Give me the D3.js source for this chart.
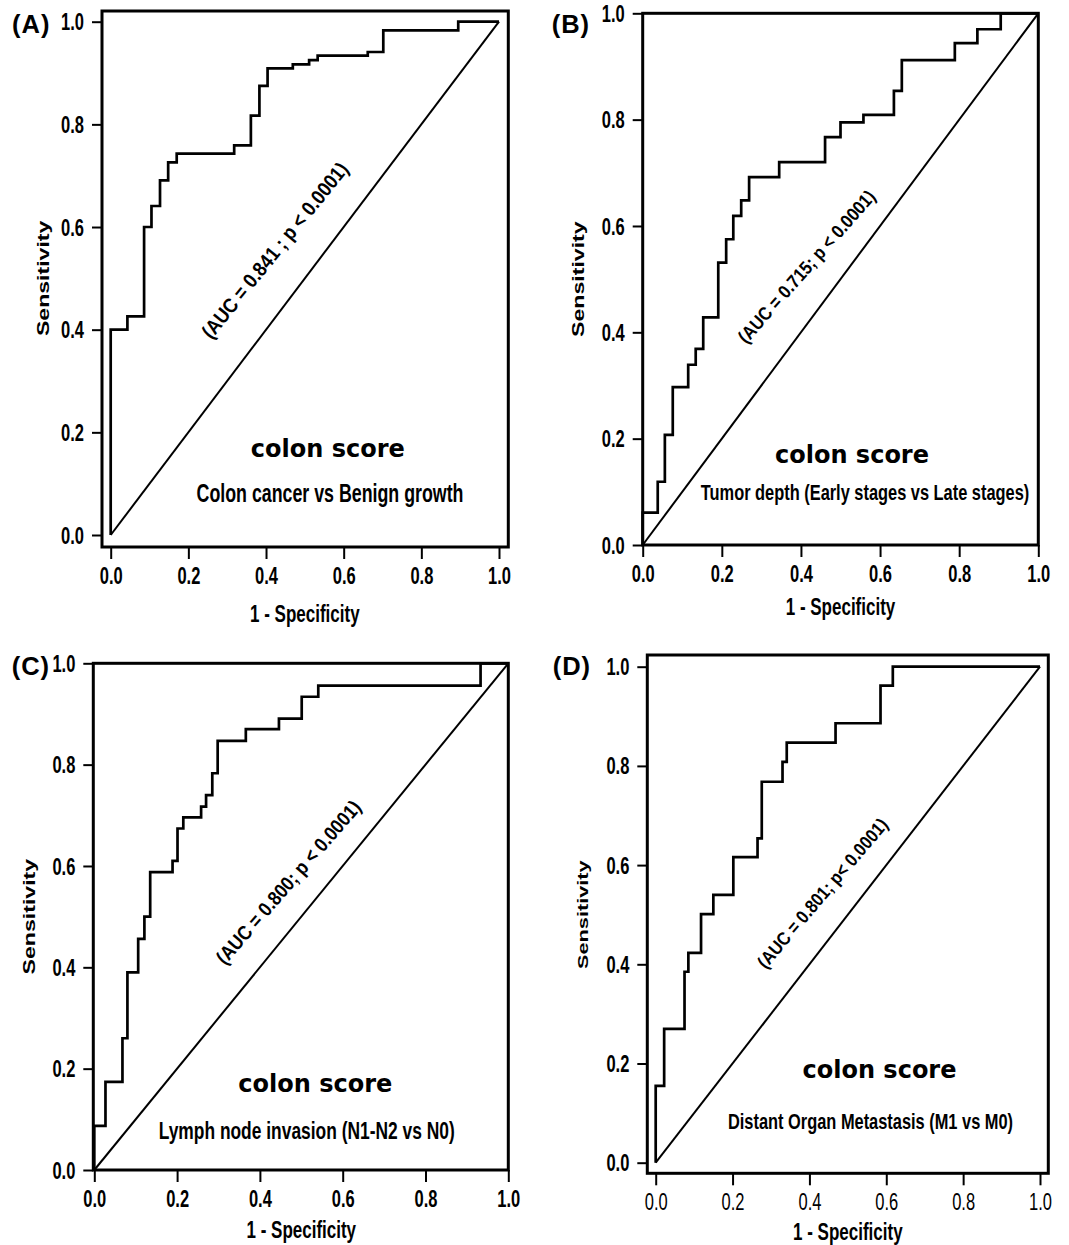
<!DOCTYPE html>
<html lang="en">
<head>
<meta charset="UTF-8">
<title>colon score ROC curves</title>
<script src="https://cdn.jsdelivr.net/npm/d3@7"></script>
<style>
  body { margin: 0; background: #fff; }
  svg text { font-family: "Liberation Sans", Arial, sans-serif; fill: #000; }
</style>
</head>
<body>
<svg id="fig" width="1069" height="1245"></svg>
<script>
// ROC operating points: 1 - specificity / sensitivity
const fprA = [0, 0, 0.043, 0.086, 0.105, 0.127, 0.148, 0.170, 0.318, 0.361, 0.383, 0.404, 0.469, 0.511, 0.533, 0.662, 0.702, 0.895, 1.0];
const tprA = [0, 0.400, 0.426, 0.600, 0.641, 0.691, 0.726, 0.743, 0.759, 0.817, 0.875, 0.909, 0.917, 0.925, 0.934, 0.941, 0.983, 1.0, 1.0];

const fprB = [0, 0, 0.038, 0.056, 0.076, 0.115, 0.134, 0.153, 0.191, 0.211, 0.229, 0.249, 0.269, 0.345, 0.461, 0.500, 0.558, 0.635, 0.655, 0.789, 0.846, 0.905, 1.0];
const tprB = [0, 0.061, 0.119, 0.207, 0.297, 0.339, 0.369, 0.428, 0.531, 0.575, 0.619, 0.648, 0.692, 0.720, 0.767, 0.795, 0.809, 0.854, 0.912, 0.944, 0.970, 1.0, 1.0];

const fprC = [0, 0, 0.027, 0.068, 0.080, 0.106, 0.121, 0.135, 0.189, 0.201, 0.215, 0.258, 0.270, 0.285, 0.298, 0.366, 0.446, 0.501, 0.541, 0.933, 1.0];
const tprC = [0, 0.087, 0.174, 0.260, 0.390, 0.456, 0.500, 0.588, 0.610, 0.674, 0.696, 0.717, 0.740, 0.783, 0.847, 0.870, 0.891, 0.934, 0.956, 1.0, 1.0];

const fprD = [0, 0, 0.022, 0.075, 0.085, 0.118, 0.150, 0.202, 0.265, 0.276, 0.330, 0.341, 0.468, 0.585, 0.617, 1.0];
const tprD = [0, 0.155, 0.270, 0.385, 0.423, 0.501, 0.540, 0.616, 0.654, 0.768, 0.808, 0.847, 0.886, 0.962, 1.0, 1.0];

const ticks = [0, 0.2, 0.4, 0.6, 0.8, 1.0];
const panelLetters = ["(A)", "(B)", "(C)", "(D)"];
const aucLabels = ["(AUC = 0.841 ; p < 0.0001)", "(AUC = 0.715; p < 0.0001)",
                   "(AUC = 0.800; p < 0.0001)", "(AUC = 0.801; p< 0.0001)"];
const subtitles = ["Colon cancer vs Benign growth", "Tumor depth (Early stages vs Late stages)",
                   "Lymph node invasion (N1-N2 vs N0)", "Distant Organ Metastasis (M1 vs M0)"];
const scoreName = "colon score";
const xTitle = "1 - Specificity";
const yTitle = "Sensitivity";

// the source figure is stretched vertically, text gets the same stretch
const S = 1.4;

// pixel layout of each panel; auc = [cx, cy, angle, font size]
const layout = [
  {x0: 110.7, x1: 499, y0: 535, y1: 21.7, frame: [102, 11, 508.3, 547],
   score: [327.8, 456.7], sub: [330, 502.3, 17.8], auc: [275, 250.5, 51, 20.5],
   xTitleY: 621.5, yTitleX: 43, letter: [12, 33.3], xBold: true},
  {x0: 642.7, x1: 1038.3, y0: 545, y1: 13.3, frame: [642.7, 13.3, 1038.3, 545],
   score: [852, 462.7], sub: [865, 500, 16.4], auc: [806.7, 266.7, 48.5, 18.8],
   xTitleY: 615, yTitleX: 578.5, letter: [551.7, 33.3], xBold: true},
  {x0: 94.3, x1: 508.3, y0: 1170, y1: 663.3, frame: [93.3, 663.3, 508.3, 1170],
   score: [315.3, 1092.3], sub: [306.7, 1139, 17.4], auc: [288.3, 882.3, 49, 20],
   xTitleY: 1238.3, yTitleX: 29, letter: [11.7, 675], xBold: true},
  {x0: 655.7, x1: 1040, y0: 1162.7, y1: 666.7, frame: [647.3, 655, 1048.3, 1173.3],
   score: [879.5, 1078.3], sub: [870.5, 1129, 16.4], auc: [822.5, 893.3, 49.5, 18.6],
   xTitleY: 1240, yTitleX: 582.5, letter: [552.7, 675], xBold: false}
];

const curves = [[fprA, tprA], [fprB, tprB], [fprC, tprC], [fprD, tprD]];

const svg = d3.select("#fig");
svg.append("rect").attr("width", 1069).attr("height", 1245).attr("fill", "#fff");

function drawPanel(p, i) {
  const x = d3.scaleLinear().domain([0, 1]).range([p.x0, p.x1]);
  const y = d3.scaleLinear().domain([0, 1]).range([p.y0, p.y1]);
  const [fl, ft, fr, fb] = p.frame;
  const g = svg.append("g");

  // x axis below the frame
  const xa = g.append("g").attr("transform", `translate(0,${fb})`)
    .call(d3.axisBottom(x).tickValues(ticks).tickFormat(d3.format(".1f")).tickSize(12).tickSizeOuter(0));
  xa.select(".domain").remove();
  xa.selectAll("line").attr("stroke", "#000").attr("stroke-width", 2);
  xa.selectAll("text")
    .attr("dy", null).attr("y", 28.5 / S)
    .attr("dominant-baseline", "central")
    .attr("transform", `scale(1,${S})`)
    .style("font-size", "16.5px")
    .style("font-weight", p.xBold ? "bold" : "normal");

  // y axis left of the frame
  const ya = g.append("g").attr("transform", `translate(${fl},0)`)
    .call(d3.axisLeft(y).tickValues(ticks).tickFormat(d3.format(".1f")).tickSize(10).tickSizeOuter(0));
  ya.select(".domain").remove();
  ya.selectAll("line").attr("stroke", "#000").attr("stroke-width", 2);
  ya.selectAll("text")
    .attr("dy", null).attr("x", -18)
    .attr("dominant-baseline", "central")
    .attr("transform", `scale(1,${S})`)
    .style("font-size", "16.5px")
    .style("font-weight", "bold");

  // frame
  g.append("rect")
    .attr("x", fl).attr("y", ft).attr("width", fr - fl).attr("height", fb - ft)
    .attr("fill", "none").attr("stroke", "#000").attr("stroke-width", 3);

  // reference diagonal
  g.append("line")
    .attr("x1", x(0)).attr("y1", y(0)).attr("x2", x(1)).attr("y2", y(1))
    .attr("stroke", "#000").attr("stroke-width", 2);

  // ROC step curve
  const [fpr, tpr] = curves[i];
  const line = d3.line().x(d => x(d[0])).y(d => y(d[1])).curve(d3.curveStepAfter);
  g.append("path").datum(d3.zip(fpr, tpr))
    .attr("d", line)
    .attr("fill", "none").attr("stroke", "#000").attr("stroke-width", 2.7)
    .attr("stroke-linejoin", "miter");

  // AUC annotation along the diagonal, narrow glyphs
  g.append("text")
    .attr("transform", `translate(${p.auc[0]},${p.auc[1]}) rotate(${-p.auc[2]}) scale(0.88,1)`)
    .attr("text-anchor", "middle").attr("dominant-baseline", "central")
    .style("font-size", p.auc[3] + "px").style("font-weight", "bold")
    .text(aucLabels[i]);

  g.append("text")
    .attr("x", p.score[0]).attr("y", p.score[1])
    .attr("text-anchor", "middle")
    .style("font-family", "'DejaVu Sans', Verdana, sans-serif")
    .style("font-size", "24px").style("font-weight", "bold")
    .text(scoreName);

  g.append("text")
    .attr("transform", `translate(${p.sub[0]},${p.sub[1]}) scale(1,${S})`)
    .attr("text-anchor", "middle")
    .style("font-size", p.sub[2] + "px").style("font-weight", p.xBold ? "bold" : "600")
    .text(subtitles[i]);

  // axis titles
  g.append("text")
    .attr("transform", `translate(${(p.x0 + p.x1) / 2},${p.xTitleY}) scale(1,${S})`)
    .attr("text-anchor", "middle")
    .style("font-size", "17px").style("font-weight", "bold")
    .text(xTitle);

  g.append("text")
    .attr("transform", `translate(${p.yTitleX},${(p.y0 + p.y1) / 2}) scale(1,${S}) rotate(-90)`)
    .attr("text-anchor", "middle").attr("dominant-baseline", "central")
    .style("font-size", i === 3 ? "15.5px" : "16.5px").style("font-weight", "bold")
    .text(yTitle);

  // panel letter
  g.append("text")
    .attr("x", p.letter[0]).attr("y", p.letter[1])
    .style("font-size", "25.5px").style("font-weight", "bold").style("letter-spacing", "1px")
    .text(panelLetters[i]);
}

layout.forEach(drawPanel);
</script>
</body>
</html>
